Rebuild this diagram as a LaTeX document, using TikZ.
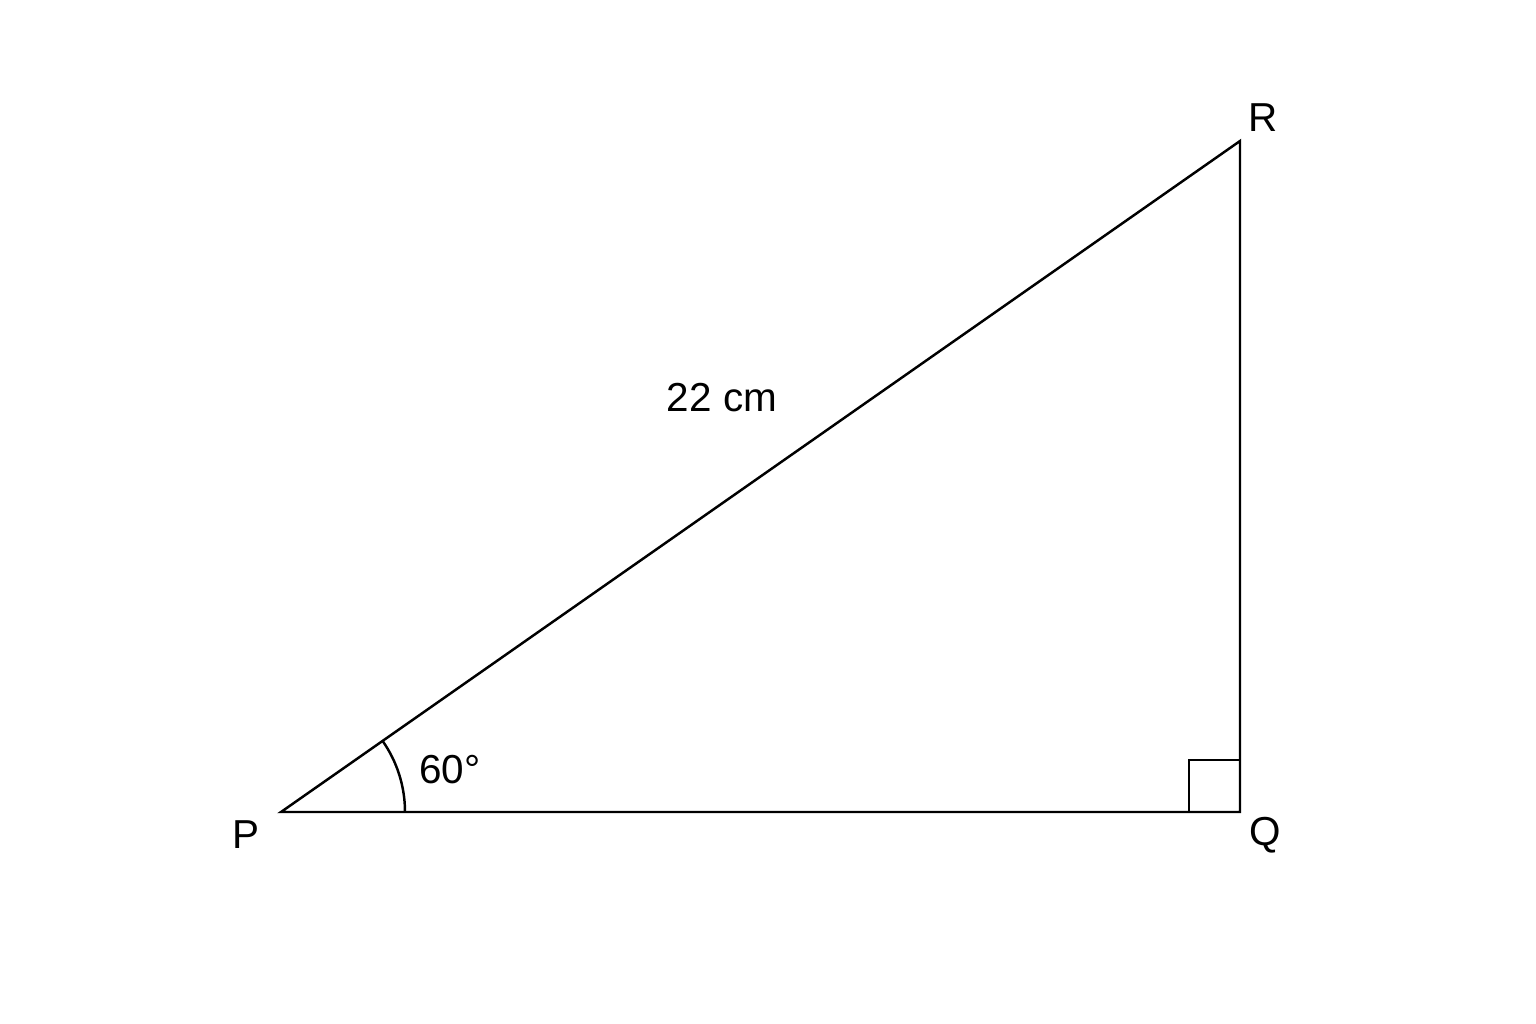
\documentclass[tikz,border=0pt]{standalone}
\usepackage{fontspec}
\setmainfont{Liberation Sans}
\usetikzlibrary{calc}
\begin{document}
\begin{tikzpicture}[x=0.01cm,y=-0.01cm,
  edge/.style={draw=black,line width=0.7pt},
  lbl/.style={font=\fontsize{11.5}{14}\selectfont,inner sep=0pt}]
\useasboundingbox (0,0) rectangle (1536,1024);
\coordinate (P) at (281,812);
\coordinate (Q) at (1240,812);
\coordinate (R) at (1240,141);
\draw[edge,line join=miter] (P) -- (Q) -- (R) -- cycle;
\draw[edge] (1189,812) -- (1189,760) -- (1240,760);
\draw[edge] ($(P)+(124,0)$) arc[start angle=0,end angle=-34.98,radius=124];
\node[lbl] (lp) at (246,835) {P};
\node[lbl] (lq) at (1265,835) {Q};
\node[lbl] (lr) at (1263,118) {R};
\node[lbl] (lh) at (722,398) {22 cm};
\node[lbl] (la) at (450,770) {60°};
\end{tikzpicture}
\end{document}
